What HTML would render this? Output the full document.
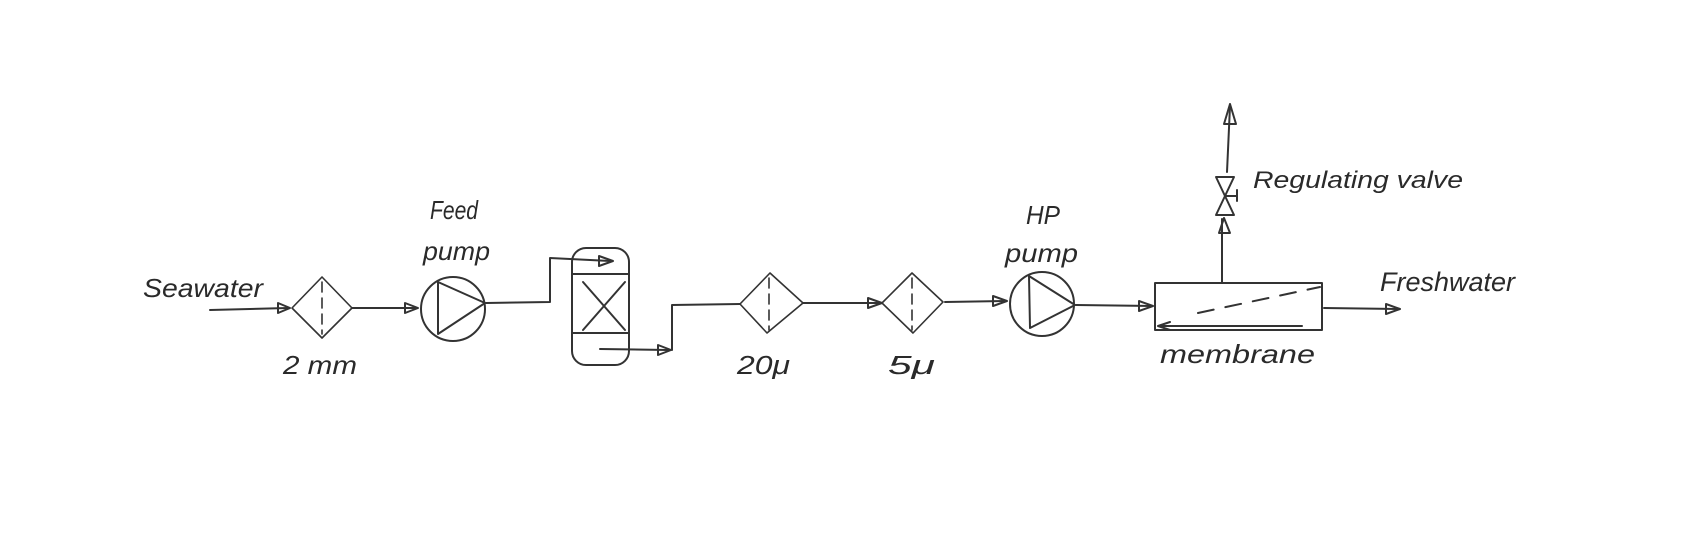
<!DOCTYPE html>
<html><head><meta charset="utf-8"><style>
html,body{margin:0;padding:0;background:#fff;}
svg{display:block;}
text{font-family:"Liberation Sans",sans-serif;fill:#2a2a2a;font-style:italic;}
</style></head><body>
<svg width="1704" height="541" viewBox="0 0 1704 541" xmlns="http://www.w3.org/2000/svg">
<rect width="1704" height="541" fill="#fff"/>
<g fill="none" stroke="#333" stroke-width="2" stroke-linecap="round" stroke-linejoin="round">
<!-- inlet -->
<path d="M210 310 L288 308"/>
<path d="M278 303 L290 308 L278 313 Z"/>
<!-- filter 1 -->
<path d="M292 308 L322 277 L352 308 L322 338 Z" stroke-width="1.6"/>
<path d="M322 282 V334" stroke-dasharray="10 6" stroke-width="1.6"/>
<path d="M352 308 L416 308"/>
<path d="M405 303 L418 308 L405 313 Z"/>
<!-- pump 1 -->
<circle cx="453" cy="309" r="32"/>
<path d="M438 282 L485 303 L438 334 Z"/>
<path d="M486 303 L550 302 L550 258 L610 261"/>
<path d="M599 256 L613 261 L599 266 Z"/>
<!-- vessel -->
<rect x="572" y="248" width="57" height="117" rx="14"/>
<path d="M572 274 H629 M572 333 H629"/>
<path d="M583 282 L625 330 M625 282 L583 330"/>
<path d="M600 349 L668 350"/>
<path d="M658 345 L671 350 L658 355 Z"/>
<path d="M672 350 V305 L740 304"/>
<!-- filter 2 -->
<path d="M740 304 L770 273 L803 303 L767 333 Z" stroke-width="1.6"/>
<path d="M769 278 V330" stroke-dasharray="10 6" stroke-width="1.6"/>
<path d="M803 303 L880 303"/>
<path d="M868 298 L882 303 L868 308 Z"/>
<!-- filter 3 -->
<path d="M882 303 L912 273 L943 302 L913 333 Z" stroke-width="1.6"/>
<path d="M912 278 V330" stroke-dasharray="10 6" stroke-width="1.6"/>
<path d="M945 302 L1005 301"/>
<path d="M993 296 L1007 301 L993 306 Z"/>
<!-- pump 2 -->
<circle cx="1042" cy="304" r="32"/>
<path d="M1029 276 L1075 305 L1030 328 Z"/>
<path d="M1076 305 L1151 306"/>
<path d="M1139 301 L1153 306 L1139 311 Z"/>
<!-- membrane -->
<rect x="1155" y="283" width="167" height="47"/>
<path d="M1198 313 L1320 287" stroke-dasharray="16 12"/>
<path d="M1302 326 H1158 M1170 322 L1158 326 L1170 330"/>
<path d="M1324 308 L1398 309"/>
<path d="M1386 304 L1400 309 L1386 314 Z"/>
<!-- valve branch -->
<path d="M1222 283 V219"/>
<path d="M1219 233 L1224 218 L1230 233 Z"/>
<path d="M1216 177 H1234 L1216 215 H1234 Z"/>
<path d="M1226 196 H1237 M1237 190 V201"/>
<path d="M1227 172 L1230 106"/>
<path d="M1224 124 L1230 104 L1236 124 Z"/>
</g>
<text x="143" y="297" font-size="26" textLength="120" lengthAdjust="spacingAndGlyphs">Seawater</text>
<text x="430" y="219" font-size="26" textLength="48" lengthAdjust="spacingAndGlyphs">Feed</text>
<text x="423" y="260" font-size="26" textLength="67" lengthAdjust="spacingAndGlyphs">pump</text>
<text x="283" y="374" font-size="26" textLength="74" lengthAdjust="spacingAndGlyphs">2 mm</text>
<text x="737" y="374" font-size="26" textLength="53" lengthAdjust="spacingAndGlyphs">20μ</text>
<text x="888" y="374" font-size="26" textLength="47" lengthAdjust="spacingAndGlyphs">5μ</text>
<text x="1026" y="224" font-size="26" textLength="34" lengthAdjust="spacingAndGlyphs">HP</text>
<text x="1005" y="262" font-size="26" textLength="73" lengthAdjust="spacingAndGlyphs">pump</text>
<text x="1253" y="188" font-size="24" textLength="210" lengthAdjust="spacingAndGlyphs">Regulating valve</text>
<text x="1380" y="291" font-size="27" textLength="135" lengthAdjust="spacingAndGlyphs">Freshwater</text>
<text x="1160" y="363" font-size="26" textLength="155" lengthAdjust="spacingAndGlyphs">membrane</text>
</svg>
</body></html>
